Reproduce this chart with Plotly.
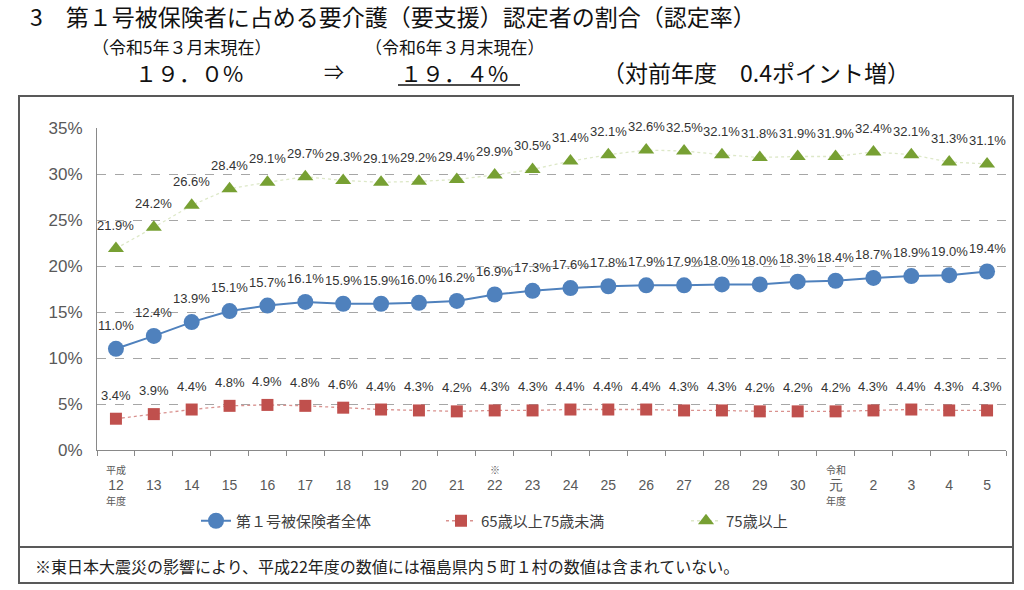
import plotly.graph_objects as go

# ---------------- data ----------------
categories = ["H12", "H13", "H14", "H15", "H16", "H17", "H18", "H19", "H20", "H21",
              "H22", "H23", "H24", "H25", "H26", "H27", "H28", "H29", "H30",
              "R1", "R2", "R3", "R4", "R5"]
tick_labels = ["12", "13", "14", "15", "16", "17", "18", "19", "20", "21",
               "22", "23", "24", "25", "26", "27", "28", "29", "30",
               "元", "2", "3", "4", "5"]
total_rate = [11.0, 12.4, 13.9, 15.1, 15.7, 16.1, 15.9, 15.9, 16.0, 16.2,
              16.9, 17.3, 17.6, 17.8, 17.9, 17.9, 18.0, 18.0, 18.3, 18.4,
              18.7, 18.9, 19.0, 19.4]
rate_65_74 = [3.4, 3.9, 4.4, 4.8, 4.9, 4.8, 4.6, 4.4, 4.3, 4.2,
              4.3, 4.3, 4.4, 4.4, 4.4, 4.3, 4.3, 4.2, 4.2, 4.2,
              4.3, 4.4, 4.3, 4.3]
rate_75_over = [21.9, 24.2, 26.6, 28.4, 29.1, 29.7, 29.3, 29.1, 29.2, 29.4,
                29.9, 30.5, 31.4, 32.1, 32.6, 32.5, 32.1, 31.8, 31.9, 31.9,
                32.4, 32.1, 31.3, 31.1]
series_names = ["第１号被保険者全体", "65歳以上75歳未満", "75歳以上"]

# ---------------- layout geometry (pixels) ----------------
W, H = 1024, 590
ML, MR, MT, MB = 97, 18, 128, 140
PW, PH = W - ML - MR, H - MT - MB


def px(x):
    return (x - ML) / PW


def py(y):
    return (H - MB - y) / PH


JP = "Noto Sans CJK JP"
LBL = "Liberation Sans"
xs = list(range(len(categories)))

fig = go.Figure()

fig.add_trace(go.Scatter(
    x=xs, y=total_rate, name=series_names[0], mode="lines+markers",
    line=dict(color="#4F81BD", width=2),
    marker=dict(symbol="circle", size=16, color="#4F81BD"),
))
fig.add_trace(go.Scatter(
    x=xs, y=rate_65_74, name=series_names[1], mode="lines+markers",
    line=dict(color="#D9928F", width=1.3, dash="dot"),
    marker=dict(symbol="square", size=12, color="#C0504D"),
))
fig.add_trace(go.Scatter(
    x=xs, y=rate_75_over, name=series_names[2], mode="lines+markers",
    line=dict(color="#DDE8C8", width=1.3, dash="dot"),
    marker=dict(symbol="triangle-up", size=14, color="#77A033"),
))

annotations = []
# data labels
for series in (total_rate, rate_65_74, rate_75_over):
    for i, v in enumerate(series):
        annotations.append(dict(
            x=xs[i], y=v, xref="x", yref="y", text=f"{v:.1f}%",
            showarrow=False, yanchor="bottom", yshift=14,
            font=dict(family=LBL, size=13, color="#333333"),
        ))

# extra small parts of the category labels
small = dict(family=JP, size=10, color="#595959")


def cat_note(xi, ypx, text):
    return dict(x=xi, y=py(ypx), xref="x", yref="paper", text=text, showarrow=False,
                xanchor="center", yanchor="middle", font=small)


annotations += [
    cat_note(0, 469, "平成"),
    cat_note(0, 501, "年度"),
    cat_note(10, 469, "※"),
    cat_note(19, 469, "令和"),
    cat_note(19, 501, "年度"),
]


# headline texts
def head(text, x, y, size, anchor="left"):
    return dict(x=px(x), y=py(y), xref="paper", yref="paper", text=text,
                showarrow=False, xanchor=anchor, yanchor="middle",
                font=dict(family=JP, size=size, color="#111111"))


annotations += [
    head("3　第１号被保険者に占める要介護（要支援）認定者の割合（認定率）", 28, 16, 23),
    head("（令和5年３月末現在）", 90, 46, 17),
    head("（令和6年３月末現在）", 363, 46, 17),
    head("１９．０%", 133, 72, 22),
    head("⇒", 322, 72, 20),
    head("１９．４%", 398, 72, 22),
    head("（対前年度　0.4ポイント増）", 600, 72, 23),
    dict(x=px(33), y=py(566), xref="paper", yref="paper",
         text="※東日本大震災の影響により、平成22年度の数値には福島県内５町１村の数値は含まれていない。",
         showarrow=False, xanchor="left", yanchor="middle",
         font=dict(family=JP, size=16, color="#222222")),
]

shapes = [
    dict(type="rect", xref="paper", yref="paper", x0=px(19), x1=px(1013), y0=py(96), y1=py(547),
         line=dict(color="#595959", width=2)),
    dict(type="rect", xref="paper", yref="paper", x0=px(19), x1=px(1013), y0=py(547), y1=py(583),
         line=dict(color="#595959", width=2)),
    dict(type="line", xref="paper", yref="paper", x0=px(398), x1=px(520), y0=py(85), y1=py(85),
         line=dict(color="#111111", width=1.5)),
]

fig.update_layout(
    width=W, height=H,
    margin=dict(l=ML, r=MR, t=MT, b=MB),
    paper_bgcolor="white", plot_bgcolor="white",
    showlegend=True,
    legend=dict(orientation="h", x=px(196), y=py(521), xanchor="left", yanchor="middle",
                font=dict(family=JP, size=15, color="#404040"),
                entrywidth=200, entrywidthmode="pixels", bgcolor="rgba(0,0,0,0)"),
    annotations=annotations,
    shapes=shapes,
)

fig.update_xaxes(
    range=[-0.5, len(categories) - 0.5],
    tickmode="array", tickvals=xs, ticktext=tick_labels,
    ticks="", showgrid=False, zeroline=False,
    showline=True, linecolor="#898989", linewidth=1,
    tickfont=dict(family=LBL, size=14, color="#595959"),
    ticklabelstandoff=22,
    minor=dict(tickmode="linear", tick0=-0.5, dtick=1, ticks="outside", ticklen=5,
               tickcolor="#898989", showgrid=False),
)
fig.update_yaxes(
    range=[0, 35], tickmode="linear", tick0=0, dtick=5, ticksuffix="%",
    showgrid=True, gridcolor="#A6A6A6", griddash="dash", gridwidth=1,
    zeroline=False, showline=True, linecolor="#898989", linewidth=1,
    tickfont=dict(family=LBL, size=17, color="#595959"),
    ticklabelstandoff=10,
)

fig.write_html("out.html")
